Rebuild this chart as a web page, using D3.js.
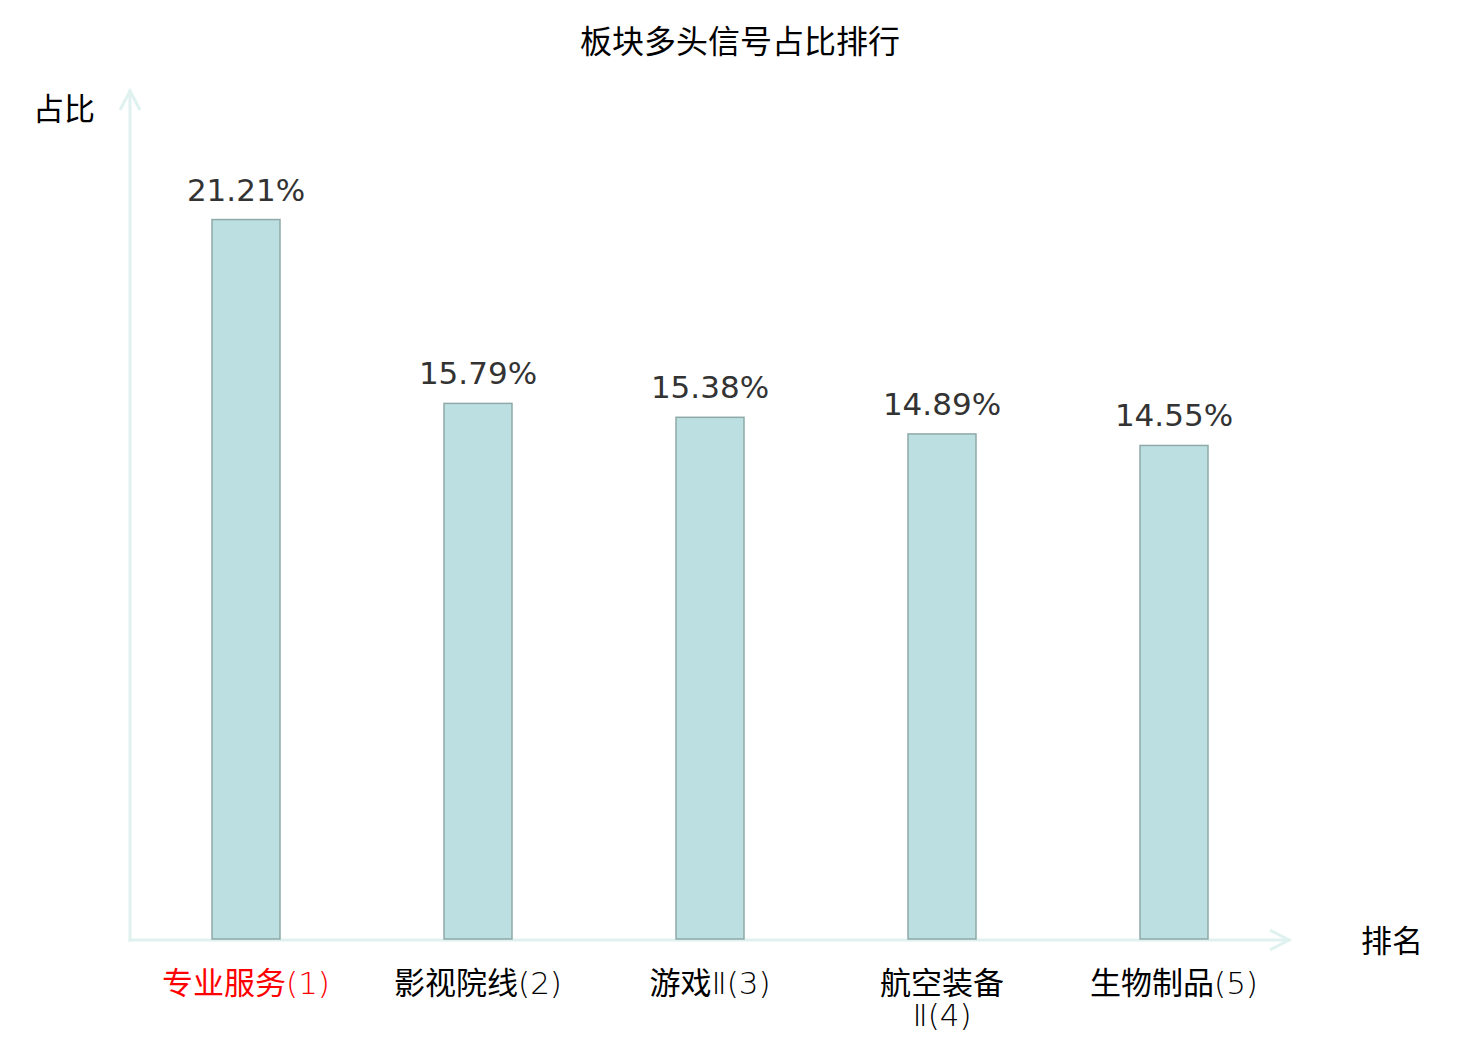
<!DOCTYPE html>
<html lang="zh">
<head>
    <meta charset="UTF-8">
    <title>板块多头信号占比排行</title>
    <script src="https://cdn.jsdelivr.net/npm/d3@7"></script>
    <style>
        body { margin: 0; background: #fff; }
        text { font-family: "Noto Sans CJK SC", "Noto Sans", sans-serif; }
        .val { font-family: "DejaVu Sans", sans-serif; }
        .thin { font-family: "DejaVu Sans", sans-serif; font-weight: 200; }
    </style>
</head>
<body>
<svg width="1480" height="1040"></svg>
<script>

    // data
    const categories = ["专业服务(1)", "影视院线(2)", "游戏Ⅱ(3)", "航空装备\nⅡ(4)", "生物制品(5)"]
    const values = [21.21, 15.79, 15.38, 14.89, 14.55]
    const highlight = [true, false, false, false, false]
    const title = "板块多头信号占比排行"
    const yName = "占比"
    const xName = "排名"

    const svg = d3.select("svg")
    const axisColor = "#dff2ef"

    const x = d3.scaleBand()
        .domain(d3.range(categories.length))
        .range([130, 1290])
        .paddingInner(0.707)
        .paddingOuter(0.3535)

    const y = d3.scaleLinear()
        .domain([0, 25])
        .range([939, 91])

    svg.append("text")
        .attr("x", 740).attr("y", 53)
        .attr("text-anchor", "middle")
        .attr("font-size", 32)
        .attr("fill", "#000")
        .text(title)

    // axes with arrows
    const axes = svg.append("g")
        .attr("stroke", axisColor)
        .attr("stroke-width", 3)
        .attr("fill", "none")
        .attr("stroke-linecap", "square")
    axes.append("line").attr("x1", 130).attr("y1", 940).attr("x2", 130).attr("y2", 91)
    axes.append("line").attr("x1", 130).attr("y1", 940).attr("x2", 1289).attr("y2", 940)
    axes.append("path").attr("d", "M120,110L130,91L140,110").attr("stroke-linecap", "butt")
    axes.append("path").attr("d", "M1270,930L1289,940L1270,950").attr("stroke-linecap", "butt")

    svg.append("text")
        .attr("x", 33).attr("y", 120)
        .attr("font-size", 31)
        .text(yName)
    svg.append("text")
        .attr("x", 1361).attr("y", 952)
        .attr("font-size", 31)
        .text(xName)

    // bars
    svg.append("g").selectAll("rect")
        .data(values)
        .join("rect")
        .attr("x", (d, i) => x(i))
        .attr("y", d => y(d))
        .attr("width", x.bandwidth())
        .attr("height", d => y(0) - y(d))
        .attr("fill", "#bce0e2")
        .attr("stroke", "#8fa9a8")
        .attr("stroke-width", 1.5)

    svg.append("g").selectAll("text")
        .data(values)
        .join("text")
        .attr("class", "val")
        .attr("x", (d, i) => x(i) + x.bandwidth() / 2)
        .attr("y", d => y(d) - 19)
        .attr("text-anchor", "middle")
        .attr("font-size", 31)
        .attr("fill", "#333")
        .text(d => d.toFixed(2) + "%")

    // category labels: CJK in sans, the rest (Ⅱ, brackets, digits) thin
    const labels = svg.append("g").selectAll("text")
        .data(categories)
        .join("text")
        .attr("x", (d, i) => x(i) + x.bandwidth() / 2)
        .attr("y", 994)
        .attr("text-anchor", "middle")
        .attr("font-size", 31)
        .attr("fill", (d, i) => highlight[i] ? "#f00" : "#000")
    labels.each(function (d) {
        const t = d3.select(this)
        const cx = t.attr("x")
        d.split("\n").forEach((line, k) => {
            const runs = line.match(/[\u4e00-\u9fff]+|[^\u4e00-\u9fff]+/g)
            runs.forEach((run, r) => {
                const span = t.append("tspan").text(run)
                if (r === 0) span.attr("x", cx).attr("dy", k === 0 ? 0 : 32)
                if (!/[\u4e00-\u9fff]/.test(run)) span.attr("class", "thin")
            })
        })
    })

</script>
</body>
</html>
